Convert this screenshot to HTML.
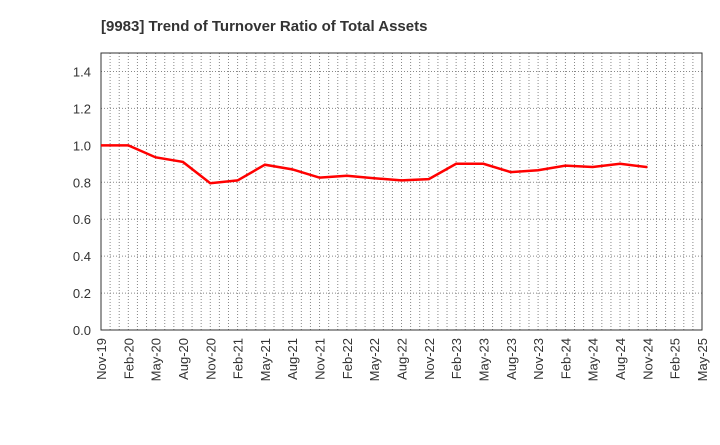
<!DOCTYPE html>
<html><head><meta charset="utf-8"><style>
body{margin:0;background:#fff;width:720px;height:440px;overflow:hidden}
svg{font-family:"Liberation Sans",sans-serif}
</style></head><body>
<svg id="chart" width="720" height="440">
<text x="101" y="31" font-size="15" font-weight="bold" fill="#333">[9983]  Trend of Turnover Ratio of Total Assets</text>
<g id="grid"></g><g id="axes"></g><g id="series"></g>
</svg>
<script>
const xLabels=["Nov-19","Feb-20","May-20","Aug-20","Nov-20","Feb-21","May-21","Aug-21","Nov-21","Feb-22","May-22","Aug-22","Nov-22","Feb-23","May-23","Aug-23","Nov-23","Feb-24","May-24","Aug-24","Nov-24","Feb-25","May-25"];
const values=[1.0,1.0,0.935,0.91,0.795,0.81,0.895,0.87,0.825,0.835,0.822,0.81,0.817,0.9,0.9,0.855,0.865,0.89,0.883,0.9,0.882];
const yTicks=[0,0.2,0.4,0.6,0.8,1.0,1.2,1.4];
const L=101,R=702,T=53,B=330,yMax=1.5;
const NS="http://www.w3.org/2000/svg";
const xs=i=>L+(R-L)*i/(xLabels.length-1);
const ys=v=>B-(B-T)*v/yMax;
function mk(tag,attrs,parent){const e=document.createElementNS(NS,tag);for(const k in attrs)e.setAttribute(k,attrs[k]);parent.appendChild(e);return e;}
const grid=document.getElementById('grid'),axes=document.getElementById('axes'),ser=document.getElementById('series');
const months=(xLabels.length-1)*3;
for(let m=1;m<months;m++){const x=L+(R-L)*m/months;const l=mk('line',{x1:x,x2:x,y1:T,y2:B,stroke:'#888','stroke-dasharray':'1,2','stroke-width':1},grid);

}
yTicks.forEach(v=>{const y=ys(v);
if(v>0){const l=mk('line',{x1:L,x2:R,y1:y,y2:y,stroke:'#888','stroke-dasharray':'1,2'},grid);

}
const t=mk('text',{x:L-10,y:y+5,'text-anchor':'end','font-size':13,fill:'#333'},axes);t.textContent=v.toFixed(1);

});
const fr=mk('rect',{x:L,y:T,width:R-L,height:B-T,fill:'none',stroke:'#333','stroke-width':1},axes);


xLabels.forEach((s,i)=>{const x=xs(i);const t=mk('text',{x:0,y:0,transform:`translate(${x+5},${B+8}) rotate(-90)`,'text-anchor':'end','font-size':13,fill:'#333'},axes);t.textContent=s;

});
const p=mk('polyline',{points:values.map((v,i)=>xs(i)+','+ys(v)).join(' '),fill:'none',stroke:'#f00','stroke-width':2.5},ser);


</script>
</body></html>
